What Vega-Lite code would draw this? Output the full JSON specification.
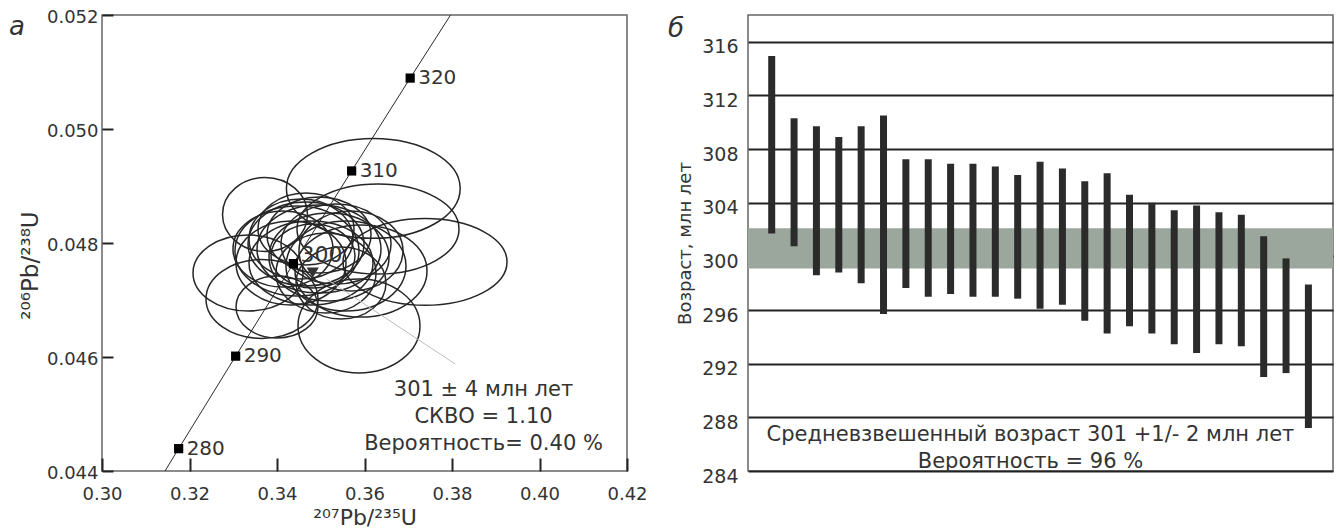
{
  "$schema": "https://vega.github.io/schema/vega-lite/v6.json",
  "background": "white",
  "padding": {"left": 8, "top": 7, "right": 0, "bottom": 0},
  "bounds": "flush",
  "spacing": 121,
  "config": {
    "font": "DejaVu Sans",
    "view": {"stroke": "#666", "strokeWidth": 1.5},
    "axis": {"labelFont": "DejaVu Sans", "titleFont": "DejaVu Sans", "labelColor": "#333", "titleColor": "#333", "titleFontWeight": "normal"}
  },
  "datasets": {
    "concordia": [
      {"age": 277.6, "x": 0.31440, "y": 0.044},
      {"age": 280, "x": 0.31752, "y": 0.044392},
      {"age": 290, "x": 0.33055, "y": 0.046015},
      {"age": 300, "x": 0.34375, "y": 0.047638},
      {"age": 310, "x": 0.35706, "y": 0.049264},
      {"age": 320, "x": 0.37044, "y": 0.050893},
      {"age": 326.8, "x": 0.37967, "y": 0.052}
    ],
    "ageticks": [
      {"age": 280, "x": 0.31752, "y": 0.044392, "label": "280"},
      {"age": 290, "x": 0.33055, "y": 0.046015, "label": "290"},
      {"age": 300, "x": 0.34375, "y": 0.047638, "label": "300"},
      {"age": 310, "x": 0.35706, "y": 0.049264, "label": "310"},
      {"age": 320, "x": 0.37044, "y": 0.050893, "label": "320"}
    ],
    "ellipses": [
      {"id": "e01", "x": 0.36201, "y": 0.048958, "sx": 0.019863, "sy": 0.000877},
      {"id": "e02", "x": 0.33726, "y": 0.048500, "sx": 0.009714, "sy": 0.000649},
      {"id": "e03", "x": 0.37383, "y": 0.047667, "sx": 0.018743, "sy": 0.000761},
      {"id": "e04", "x": 0.36309, "y": 0.048246, "sx": 0.018514, "sy": 0.000789},
      {"id": "e05", "x": 0.33337, "y": 0.047474, "sx": 0.012571, "sy": 0.000667},
      {"id": "e06", "x": 0.33657, "y": 0.047018, "sx": 0.012800, "sy": 0.000693},
      {"id": "e07", "x": 0.35874, "y": 0.046544, "sx": 0.013943, "sy": 0.000825},
      {"id": "e08", "x": 0.34000, "y": 0.046877, "sx": 0.009371, "sy": 0.000544},
      {"id": "e09", "x": 0.34457, "y": 0.047860, "sx": 0.014171, "sy": 0.000789},
      {"id": "e10", "x": 0.34663, "y": 0.047982, "sx": 0.013257, "sy": 0.000737},
      {"id": "e11", "x": 0.34960, "y": 0.047895, "sx": 0.014171, "sy": 0.000772},
      {"id": "e12", "x": 0.34549, "y": 0.048070, "sx": 0.011886, "sy": 0.000702},
      {"id": "e13", "x": 0.35189, "y": 0.047754, "sx": 0.013714, "sy": 0.000772},
      {"id": "e14", "x": 0.34777, "y": 0.047649, "sx": 0.014171, "sy": 0.000737},
      {"id": "e15", "x": 0.35349, "y": 0.047982, "sx": 0.012571, "sy": 0.000702},
      {"id": "e16", "x": 0.34320, "y": 0.047649, "sx": 0.012571, "sy": 0.000737},
      {"id": "e17", "x": 0.34960, "y": 0.048140, "sx": 0.011886, "sy": 0.000667},
      {"id": "e18", "x": 0.35577, "y": 0.047596, "sx": 0.013714, "sy": 0.000789},
      {"id": "e19", "x": 0.35120, "y": 0.047474, "sx": 0.011429, "sy": 0.000702},
      {"id": "e20", "x": 0.34663, "y": 0.048246, "sx": 0.010971, "sy": 0.000632},
      {"id": "e21", "x": 0.35691, "y": 0.047860, "sx": 0.011886, "sy": 0.000702},
      {"id": "e22", "x": 0.34137, "y": 0.047895, "sx": 0.011429, "sy": 0.000667},
      {"id": "e23", "x": 0.35463, "y": 0.047298, "sx": 0.010286, "sy": 0.000632},
      {"id": "e24", "x": 0.34823, "y": 0.047772, "sx": 0.009600, "sy": 0.000561},
      {"id": "e25", "x": 0.35920, "y": 0.047509, "sx": 0.015086, "sy": 0.000807}
    ],
    "leader": [{"x": 0.35132, "y": 0.047368, "x2": 0.38073, "y2": 0.045877}],
    "meanpt": [{"x": 0.34816, "y": 0.047479}],
    "annA": [
      {"x": 0.3872, "y": 0.045414, "text": "301 ± 4 млн лет"},
      {"x": 0.3872, "y": 0.044940, "text": "СКВО = 1.10"},
      {"x": 0.3872, "y": 0.044467, "text": "Вероятность= 0.40 %"}
    ],
    "tagA": [{"x": 0.28057, "y": 0.05179, "text": "а"}],
    "band": [{"lo": 299.1, "hi": 302.1}],
    "bars": [
      {"idx": 1, "lo": 301.7, "hi": 314.95},
      {"idx": 2, "lo": 300.75, "hi": 310.3},
      {"idx": 3, "lo": 298.6, "hi": 309.7},
      {"idx": 4, "lo": 298.8, "hi": 308.9},
      {"idx": 5, "lo": 298.0, "hi": 309.7},
      {"idx": 6, "lo": 295.7, "hi": 310.5},
      {"idx": 7, "lo": 297.65, "hi": 307.25},
      {"idx": 8, "lo": 297.0, "hi": 307.25},
      {"idx": 9, "lo": 297.2, "hi": 306.9},
      {"idx": 10, "lo": 297.0, "hi": 306.9},
      {"idx": 11, "lo": 297.0, "hi": 306.7},
      {"idx": 12, "lo": 296.85, "hi": 306.07},
      {"idx": 13, "lo": 296.1, "hi": 307.05},
      {"idx": 14, "lo": 296.4, "hi": 306.55},
      {"idx": 15, "lo": 295.2, "hi": 305.6},
      {"idx": 16, "lo": 294.25, "hi": 306.2},
      {"idx": 17, "lo": 294.8, "hi": 304.6},
      {"idx": 18, "lo": 294.25, "hi": 304.0},
      {"idx": 19, "lo": 293.45, "hi": 303.45},
      {"idx": 20, "lo": 292.8, "hi": 303.8},
      {"idx": 21, "lo": 293.45, "hi": 303.3},
      {"idx": 22, "lo": 293.3, "hi": 303.1},
      {"idx": 23, "lo": 291.0, "hi": 301.5},
      {"idx": 24, "lo": 291.3, "hi": 299.85},
      {"idx": 25, "lo": 287.2, "hi": 297.9}
    ],
    "annB": [
      {"x": 12.57, "lo": 286.67, "text": "Средневзвешенный возраст 301 +1/- 2 млн лет"},
      {"x": 12.57, "lo": 284.65, "text": "Вероятность = 96 %"}
    ],
    "tagB": [{"x": -3.28, "lo": 316.96, "text": "б"}]
  },
  "hconcat": [
    {
      "width": 525,
      "height": 456,
      "layer": [
        {
          "data": {"name": "concordia"},
          "mark": {"type": "line", "color": "#2a2a2a", "strokeWidth": 1, "clip": true},
          "encoding": {
            "x": {"field": "x", "type": "quantitative", "title": "²⁰⁷Pb/²³⁵U",
              "scale": {"domain": [0.30, 0.42], "zero": false, "nice": false},
              "axis": {"values": [0.30, 0.32, 0.34, 0.36, 0.38, 0.40, 0.42], "format": ".2f", "labelFlush": false, "domain": false, "grid": false, "tickSize": -13, "tickWidth": 2, "tickColor": "#222", "labelPadding": 27, "labelFontSize": 18, "titleFontSize": 22, "titlePadding": 4}},
            "y": {"field": "y", "type": "quantitative", "title": "²⁰⁶Pb/²³⁸U",
              "scale": {"domain": [0.044, 0.052], "zero": false, "nice": false},
              "axis": {"values": [0.044, 0.046, 0.048, 0.050, 0.052], "format": ".3f", "domain": false, "grid": false, "tickSize": -11, "tickWidth": 2, "tickColor": "#222", "labelPadding": 15, "labelOffset": 2, "labelFontSize": 18, "titleFontSize": 23, "titlePadding": 4, "titleY": 250}},
            "order": {"field": "age", "type": "quantitative"}
          }
        },
        {
          "data": {"name": "ellipses"},
          "mark": {"type": "point", "filled": false, "color": "#262626", "strokeWidth": 1.5, "opacity": 1},
          "encoding": {
            "x": {"field": "x", "type": "quantitative", "title": "²⁰⁷Pb/²³⁵U"},
            "y": {"field": "y", "type": "quantitative", "title": "²⁰⁶Pb/²³⁸U"},
            "size": {"field": "sx", "type": "quantitative", "legend": null,
              "scale": {"type": "pow", "exponent": 2, "domain": [0, 0.02], "range": [0, 30625]}},
            "shape": {"field": "id", "type": "nominal", "legend": null,
              "scale": {
                "domain": ["e01","e02","e03","e04","e05","e06","e07","e08","e09","e10","e11","e12","e13","e14","e15","e16","e17","e18","e19","e20","e21","e22","e23","e24","e25"],
                "range": [
                  "M-1,0A1,0.575,0,1,0,1,0A1,0.575,0,1,0,-1,0Z",
                  "M-1,0A1,0.871,0,1,0,1,0A1,0.871,0,1,0,-1,0Z",
                  "M-1,0A1,0.529,0,1,0,1,0A1,0.529,0,1,0,-1,0Z",
                  "M-1,0A1,0.556,0,1,0,1,0A1,0.556,0,1,0,-1,0Z",
                  "M-1,0A1,0.691,0,1,0,1,0A1,0.691,0,1,0,-1,0Z",
                  "M-1,0A1,0.705,0,1,0,1,0A1,0.705,0,1,0,-1,0Z",
                  "M-1,0A1,0.770,0,1,0,1,0A1,0.770,0,1,0,-1,0Z",
                  "M-1,0A1,0.756,0,1,0,1,0A1,0.756,0,1,0,-1,0Z",
                  "M-1,0A1,0.726,0,1,0,1,0A1,0.726,0,1,0,-1,0Z",
                  "M-1,0A1,0.724,0,1,0,1,0A1,0.724,0,1,0,-1,0Z",
                  "M-1,0A1,0.710,0,1,0,1,0A1,0.710,0,1,0,-1,0Z",
                  "M-1,0A1,0.769,0,1,0,1,0A1,0.769,0,1,0,-1,0Z",
                  "M-1,0A1,0.733,0,1,0,1,0A1,0.733,0,1,0,-1,0Z",
                  "M-1,0A1,0.677,0,1,0,1,0A1,0.677,0,1,0,-1,0Z",
                  "M-1,0A1,0.727,0,1,0,1,0A1,0.727,0,1,0,-1,0Z",
                  "M-1,0A1,0.764,0,1,0,1,0A1,0.764,0,1,0,-1,0Z",
                  "M-1,0A1,0.731,0,1,0,1,0A1,0.731,0,1,0,-1,0Z",
                  "M-1,0A1,0.750,0,1,0,1,0A1,0.750,0,1,0,-1,0Z",
                  "M-1,0A1,0.800,0,1,0,1,0A1,0.800,0,1,0,-1,0Z",
                  "M-1,0A1,0.750,0,1,0,1,0A1,0.750,0,1,0,-1,0Z",
                  "M-1,0A1,0.769,0,1,0,1,0A1,0.769,0,1,0,-1,0Z",
                  "M-1,0A1,0.760,0,1,0,1,0A1,0.760,0,1,0,-1,0Z",
                  "M-1,0A1,0.800,0,1,0,1,0A1,0.800,0,1,0,-1,0Z",
                  "M-1,0A1,0.762,0,1,0,1,0A1,0.762,0,1,0,-1,0Z",
                  "M-1,0A1,0.697,0,1,0,1,0A1,0.697,0,1,0,-1,0Z"
                ]
              }}
          }
        },
        {
          "data": {"name": "leader"},
          "mark": {"type": "rule", "color": "#bdbdbd", "strokeWidth": 1},
          "encoding": {
            "x": {"field": "x", "type": "quantitative", "title": "²⁰⁷Pb/²³⁵U"},
            "y": {"field": "y", "type": "quantitative", "title": "²⁰⁶Pb/²³⁸U"},
            "x2": {"field": "x2"},
            "y2": {"field": "y2"}
          }
        },
        {
          "data": {"name": "meanpt"},
          "mark": {"type": "point", "shape": "triangle-down", "filled": true, "color": "#333", "size": 150, "opacity": 1},
          "encoding": {
            "x": {"field": "x", "type": "quantitative", "title": "²⁰⁷Pb/²³⁵U"},
            "y": {"field": "y", "type": "quantitative", "title": "²⁰⁶Pb/²³⁸U"}
          }
        },
        {
          "data": {"name": "ageticks"},
          "mark": {"type": "square", "color": "#000", "size": 85, "opacity": 1},
          "encoding": {
            "x": {"field": "x", "type": "quantitative", "title": "²⁰⁷Pb/²³⁵U"},
            "y": {"field": "y", "type": "quantitative", "title": "²⁰⁶Pb/²³⁸U"}
          }
        },
        {
          "data": {"name": "ageticks"},
          "transform": [{"filter": "datum.age != 300"}],
          "mark": {"type": "text", "align": "left", "baseline": "middle", "dx": 8, "fontSize": 20, "color": "#333"},
          "encoding": {
            "x": {"field": "x", "type": "quantitative", "title": "²⁰⁷Pb/²³⁵U"},
            "y": {"field": "y", "type": "quantitative", "title": "²⁰⁶Pb/²³⁸U"},
            "text": {"field": "label"}
          }
        },
        {
          "data": {"name": "ageticks"},
          "transform": [{"filter": "datum.age == 300"}],
          "mark": {"type": "text", "align": "left", "baseline": "middle", "dx": 7, "dy": -9, "fontSize": 22, "color": "#333"},
          "encoding": {
            "x": {"field": "x", "type": "quantitative", "title": "²⁰⁷Pb/²³⁵U"},
            "y": {"field": "y", "type": "quantitative", "title": "²⁰⁶Pb/²³⁸U"},
            "text": {"field": "label"}
          }
        },
        {
          "data": {"name": "annA"},
          "mark": {"type": "text", "align": "center", "baseline": "middle", "fontSize": 21, "color": "#333"},
          "encoding": {
            "x": {"field": "x", "type": "quantitative", "title": "²⁰⁷Pb/²³⁵U"},
            "y": {"field": "y", "type": "quantitative", "title": "²⁰⁶Pb/²³⁸U"},
            "text": {"field": "text"}
          }
        },
        {
          "data": {"name": "tagA"},
          "mark": {"type": "text", "align": "center", "baseline": "middle", "fontSize": 26, "fontStyle": "italic", "color": "#333"},
          "encoding": {
            "x": {"field": "x", "type": "quantitative", "title": "²⁰⁷Pb/²³⁵U"},
            "y": {"field": "y", "type": "quantitative", "title": "²⁰⁶Pb/²³⁸U"},
            "text": {"field": "text"}
          }
        }
      ]
    },
    {
      "width": 585,
      "height": 456,
      "layer": [
        {
          "data": {"name": "band"},
          "mark": {"type": "rect", "color": "#9ba69c"},
          "encoding": {
            "y": {"field": "lo", "type": "quantitative", "title": "Возраст, млн лет",
              "scale": {"domain": [284, 318], "zero": false, "nice": false},
              "axis": {"values": [284, 288, 292, 296, 300, 304, 308, 312, 316], "grid": true, "gridColor": "#222", "gridWidth": 2, "ticks": false, "domain": false, "labelPadding": 10, "labelOffset": 5, "labelFontSize": 19, "titleFontSize": 18, "titlePadding": 7}},
            "y2": {"field": "hi"}
          }
        },
        {
          "data": {"name": "bars"},
          "mark": {"type": "rule", "color": "#2b2b2b", "strokeWidth": 7, "strokeCap": "butt"},
          "encoding": {
            "x": {"field": "idx", "type": "quantitative", "scale": {"domain": [-0.06, 26.1], "zero": false, "nice": false}, "axis": null},
            "y": {"field": "lo", "type": "quantitative", "title": "Возраст, млн лет"},
            "y2": {"field": "hi"}
          }
        },
        {
          "data": {"name": "annB"},
          "mark": {"type": "text", "align": "center", "baseline": "middle", "fontSize": 21, "color": "#333"},
          "encoding": {
            "x": {"field": "x", "type": "quantitative"},
            "y": {"field": "lo", "type": "quantitative", "title": "Возраст, млн лет"},
            "text": {"field": "text"}
          }
        },
        {
          "data": {"name": "tagB"},
          "mark": {"type": "text", "align": "center", "baseline": "middle", "fontSize": 26, "fontStyle": "italic", "color": "#333"},
          "encoding": {
            "x": {"field": "x", "type": "quantitative"},
            "y": {"field": "lo", "type": "quantitative", "title": "Возраст, млн лет"},
            "text": {"field": "text"}
          }
        }
      ]
    }
  ]
}
